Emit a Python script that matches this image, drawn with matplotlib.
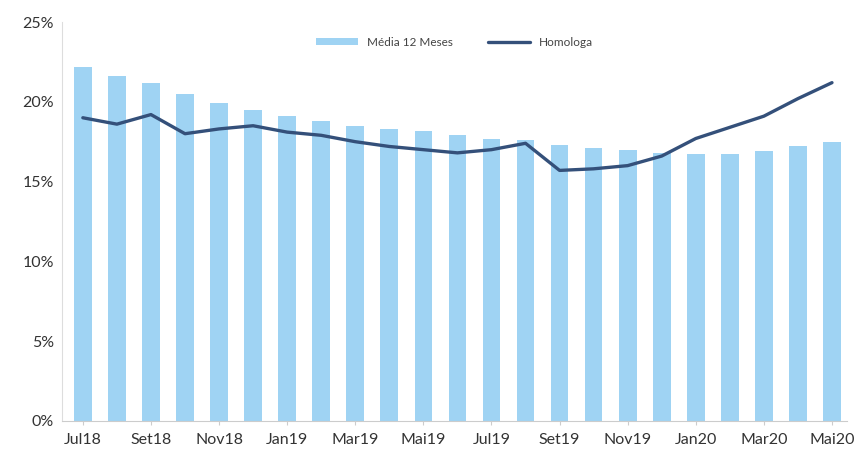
import matplotlib.pyplot as plt
from matplotlib.ticker import PercentFormatter

months = ['Jul18', 'Ago18', 'Set18', 'Out18', 'Nov18', 'Dez18', 'Jan19', 'Fev19',
          'Mar19', 'Abr19', 'Mai19', 'Jun19', 'Jul19', 'Ago19', 'Set19', 'Out19',
          'Nov19', 'Dez19', 'Jan20', 'Fev20', 'Mar20', 'Abr20', 'Mai20']
media_12m = [22.2, 21.6, 21.2, 20.5, 19.9, 19.5, 19.1, 18.8, 18.5, 18.3, 18.2, 17.9,
             17.7, 17.6, 17.3, 17.1, 17.0, 16.8, 16.7, 16.7, 16.9, 17.2, 17.5]
homologa = [19.0, 18.6, 19.2, 18.0, 18.3, 18.5, 18.1, 17.9, 17.5, 17.2, 17.0, 16.8,
            17.0, 17.4, 15.7, 15.8, 16.0, 16.6, 17.7, 18.4, 19.1, 20.2, 21.2]

plt.rcParams['font.family'] = ['Lato', 'DejaVu Sans']

fig = plt.figure(figsize=(8.55, 4.59), dpi=100)
ax = fig.add_axes([0.073, 0.083, 0.918, 0.869])

x = range(len(months))
bars = ax.bar(x, media_12m, width=0.52, color='#9fd3f3', label='Média 12 Meses', zorder=2)
line, = ax.plot(x, homologa, color='#34507a', lw=2.4, solid_joinstyle='round',
                solid_capstyle='round', label='Homologa', zorder=3)

ax.set_ylim(0, 25)
ax.set_xlim(-0.6, len(months) - 0.55)
ax.set_yticks([0, 5, 10, 15, 20, 25])
ax.yaxis.set_major_formatter(PercentFormatter(decimals=0))
ax.set_xticks(list(x)[::2])
ax.set_xticklabels(months[::2])
ax.tick_params(axis='both', labelsize=11.5, colors='#333333', length=0, pad=6)
ax.tick_params(axis='x', length=3, color='#cccccc')

for s in ['top', 'right']:
    ax.spines[s].set_visible(False)
ax.spines['left'].set_color('#dddddd')
ax.spines['bottom'].set_color('#cccccc')

ax.legend([bars, line], ['Média 12 Meses', 'Homologa'], loc='upper center',
          bbox_to_anchor=(0.5, 0.99), ncol=2, frameon=False, fontsize=8.5,
          handlelength=3.5, handleheight=0.5, columnspacing=3, labelcolor='#444444')

fig.savefig('out.png', dpi=100)
